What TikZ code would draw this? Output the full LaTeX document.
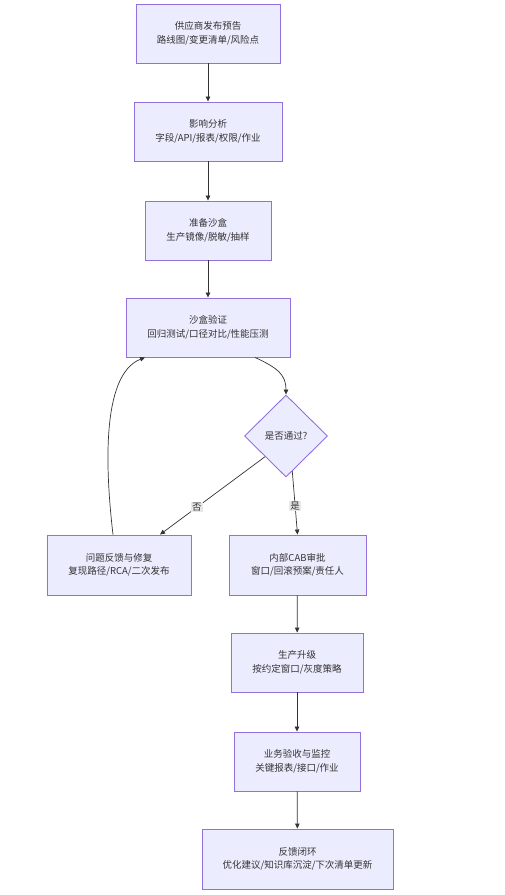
\documentclass[tikz,border=0pt]{standalone}
\usepackage{fontspec}
\setmainfont{Noto Sans CJK SC}
\usetikzlibrary{shapes.geometric,arrows.meta,calc}
\definecolor{nodefill}{HTML}{ECECFF}
\definecolor{nodeline}{HTML}{9370DB}
\definecolor{txt}{HTML}{333333}
\definecolor{lblbg}{HTML}{E8E8E8}
\begin{document}
\begin{tikzpicture}[x=1pt,y=-1pt,
  box/.style={draw=nodeline,fill=nodefill,line width=0.9pt,text=txt,align=center,
    font=\fontsize{9.5}{13.5}\selectfont,inner sep=0pt},
  dia/.style={draw=nodeline,fill=nodefill,line width=0.9pt,text=txt,diamond,aspect=1,
    minimum width=83pt,minimum height=82pt,inner sep=0pt,font=\fontsize{9.5}{12}\selectfont},
  conn/.style={draw=txt,line width=0.7pt,-{Triangle[length=5pt,width=4.5pt]}},
  lbl/.style={fill=lblbg,text=txt,font=\fontsize{9.5}{12}\selectfont,inner sep=1pt}]
\useasboundingbox (0,0) rectangle (505,895);
\node[box,minimum width=144pt,minimum height=59pt] (a) at (208,33.5) {供应商发布预告\\路线图/变更清单/风险点};
\node[box,minimum width=148pt,minimum height=59pt] (b) at (208,131.5) {影响分析\\字段/API/报表/权限/作业};
\node[box,minimum width=126pt,minimum height=59pt] (c) at (208,230.5) {准备沙盒\\生产镜像/脱敏/抽样};
\node[box,minimum width=164pt,minimum height=59pt] (d) at (208,327.5) {沙盒验证\\回归测试/口径对比/性能压测};
\node[dia] (e) at (286,436) {是否通过?};
\node[box,minimum width=144pt,minimum height=60pt] (f) at (119,565) {问题反馈与修复\\复现路径/RCA/二次发布};
\node[box,minimum width=137pt,minimum height=60pt] (g) at (297.5,565) {内部CAB审批\\窗口/回滚预案/责任人};
\node[box,minimum width=132pt,minimum height=59pt] (h) at (297,662.5) {生产升级\\按约定窗口/灰度策略};
\node[box,minimum width=126pt,minimum height=59pt] (i) at (297,761.5) {业务验收与监控\\关键报表/接口/作业};
\node[box,minimum width=191pt,minimum height=60pt] (j) at (297.5,859) {反馈闭环\\优化建议/知识库沉淀/下次清单更新};
\draw[conn] (a) -- (b);
\draw[conn] (b) -- (c);
\draw[conn] (c) -- (d);
\coordinate (d1) at ($(d.south)+(47,0)$);
\draw[conn] (d1) .. controls (278,368) and (286,375) .. (e.north);
\coordinate (e1) at ($(e.west)!0.5!(e.south)$);
\coordinate (f1) at ($(f.north)+(41,0)$);
\draw[conn] (e1) -- node[lbl,pos=0.65] {否} (f1);
\coordinate (e2) at ($(e.south)!0.15!(e.east)$);
\draw[conn] (e2) -- node[lbl,pos=0.55] {是} (g.north);
\coordinate (f2) at ($(f.north)+(-6,0)$);
\coordinate (d2) at ($(d.south)+(-63,0)$);
\draw[conn] (f2) .. controls (106,475) and (100,375) .. (d2);
\draw[conn] (g) -- (h);
\draw[conn] (h) -- (i);
\draw[conn] (i) -- (j);
\end{tikzpicture}
\end{document}
